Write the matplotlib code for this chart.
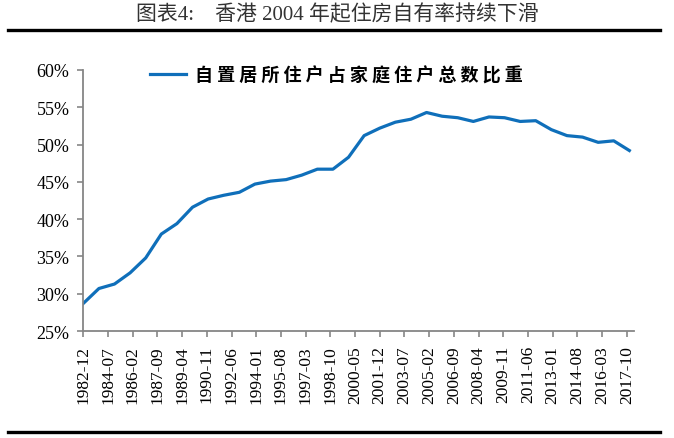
import matplotlib.pyplot as plt
from matplotlib.lines import Line2D

plt.rcParams['font.family'] = ['Liberation Serif', 'Noto Sans CJK SC', 'DejaVu Sans']

# annual data, 1982-12 .. 2017-12 (share of owner-occupied households, %)
years = list(range(1982, 2018))
share = [28.7, 30.7, 31.3, 32.8, 34.8, 38.0, 39.4, 41.6, 42.7, 43.2,
         43.6, 44.7, 45.1, 45.3, 45.9, 46.7, 46.7, 48.3, 51.2, 52.2,
         53.0, 53.4, 54.3, 53.8, 53.6, 53.1, 53.7, 53.6, 53.1, 53.2,
         52.0, 51.2, 51.0, 50.3, 50.5, 49.2]
tick_labels = ['1982-12', '1984-07', '1986-02', '1987-09', '1989-04', '1990-11',
               '1992-06', '1994-01', '1995-08', '1997-03', '1998-10', '2000-05',
               '2001-12', '2003-07', '2005-02', '2006-09', '2008-04', '2009-11',
               '2011-06', '2013-01', '2014-08', '2016-03', '2017-10']
series_name = '自置居所住户占家庭住户总数比重'
title = '图表4:    香港 2004 年起住房自有率持续下滑'

# months since 1982-12
x = [(y - 1982) * 12 for y in years]
tick_pos = [i * 19 for i in range(len(tick_labels))]

fig = plt.figure(figsize=(6.74, 4.39), dpi=100)
ax = fig.add_axes([0.1236, 0.2437, 0.9407 - 0.1236, 0.8383 - 0.2437])

ax.plot(x, share, color='#0F6FBA', lw=2.3, label=' '.join(series_name))

ax.set_xlim(0, 423.6)
ax.set_ylim(25, 60)
ax.set_yticks(range(25, 61, 5))
ax.set_yticklabels([f'{v}%' for v in range(25, 61, 5)], fontsize=13)
ax.set_xticks(tick_pos)
ax.set_xticklabels(tick_labels, rotation=90, fontsize=12.5)

for s in ['top', 'right']:
    ax.spines[s].set_visible(False)
for s in ['left', 'bottom']:
    ax.spines[s].set_color('#868686')
    ax.spines[s].set_linewidth(1.3)
ax.tick_params(direction='out', length=4, width=1.2, color='#868686', pad=6)

leg = ax.legend(loc='center left', bbox_to_anchor=(150 / 674, 1 - 76 / 439),
                bbox_transform=fig.transFigure, frameon=False,
                borderpad=0, borderaxespad=0,
                handlelength=2.0, handletextpad=0.5,
                prop={'family': ['Noto Sans CJK SC'], 'weight': 'bold', 'size': 13})

fig.text(0.5, 1 - 15 / 439, title, ha='center', va='center', fontsize=15,
         family=['Liberation Serif', 'Noto Sans CJK SC', 'DejaVu Sans'], color='#333333')

fig.add_artist(Line2D([8 / 674, 660 / 674], [1 - 30.5 / 439] * 2, color='black', lw=2.4,
                      transform=fig.transFigure))
fig.add_artist(Line2D([8 / 674, 660 / 674], [1 - 433 / 439] * 2, color='black', lw=2.4,
                      transform=fig.transFigure))

fig.savefig('out.png', dpi=100)
